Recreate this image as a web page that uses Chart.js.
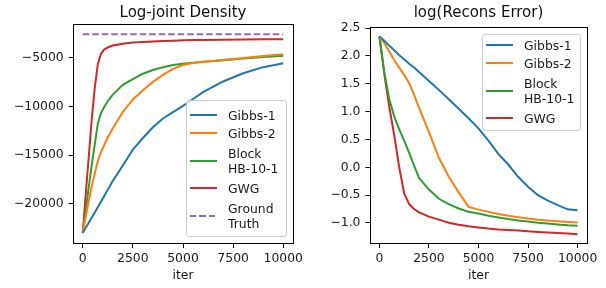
<!DOCTYPE html>
<html>
<head>
<meta charset="utf-8">
<script src="https://cdn.jsdelivr.net/npm/chart.js@4.4.1/dist/chart.umd.min.js"></script>
<style>
  html, body { margin: 0; padding: 0; background: #fff; }
  body { width: 606px; height: 288px; position: relative; overflow: hidden; font-family: "DejaVu Sans", sans-serif; }
  canvas { position: absolute; top: 0; }
  #density-chart { left: 0; }
  #recons-chart { left: 296px; }
  .legend { position: absolute; box-sizing: border-box; background: rgba(255,255,255,0.8); border: 1px solid #cccccc; border-radius: 3px; font-size: 12.4px; color: #1a1a1a; }
  #density-legend { left: 186px; top: 100px; width: 101px; height: 137px; padding-top: 5px; }
  #recons-legend { left: 482px; top: 34px; width: 99px; height: 97px; padding-top: 1px; }
  .legend-item { display: flex; align-items: center; height: 18.3px; }
  .legend-item.two-line { height: 36.7px; }
  .legend-line { width: 27px; height: 2px; margin: 0 11px 0 3px; flex: none; }
  .legend-label { line-height: 15px; white-space: pre; }
</style>
</head>
<body>
<canvas id="density-chart" width="330" height="288"></canvas>
<canvas id="recons-chart" width="310" height="288"></canvas>
<div class="legend" id="density-legend"></div>
<div class="legend" id="recons-legend"></div>
<script>
// Series names and colours (shared by both panels)
const seriesLabels = ['Gibbs-1', 'Gibbs-2', 'Block\nHB-10-1', 'GWG'];
const seriesColors = ['#1f77b4', '#ff7f0e', '#2ca02c', '#d62728'];

// Left panel: log-joint density
const densityIters = [0, 150, 300, 450, 600, 750, 900, 1050, 1250, 1500, 2000, 2500, 3000, 3500, 4000, 4500, 5000, 5500, 6000, 7000, 8000, 9000, 10000];
const densityGibbs1 = [-23000, -22470, -21950, -21420, -20900, -20370, -19830, -19280, -18550, -17650, -16070, -14450, -13250, -12150, -11250, -10600, -9950, -9250, -8550, -7450, -6600, -5980, -5580];
const densityGibbs2 = [-23000, -21350, -19700, -18180, -16900, -15630, -14750, -14070, -13170, -12240, -10580, -9290, -8350, -7490, -6780, -6150, -5760, -5560, -5440, -5240, -5040, -4840, -4650];
const densityBlock = [-23000, -20700, -18300, -16000, -13900, -11800, -10750, -10150, -9450, -8800, -7800, -7200, -6650, -6270, -5990, -5760, -5620, -5520, -5430, -5270, -5080, -4930, -4800];
const densityGWG = [-23000, -19000, -15200, -11300, -8100, -5700, -4650, -4200, -3960, -3760, -3570, -3450, -3390, -3340, -3300, -3260, -3230, -3200, -3185, -3160, -3140, -3125, -3115];
const groundTruthIters = [0, 10000];
const groundTruthValues = [-2600, -2600];

// Right panel: log reconstruction error
const reconsIters = [0, 250, 500, 750, 1000, 1250, 1500, 1750, 2000, 2500, 3000, 3500, 4000, 4500, 5000, 5500, 6000, 6500, 7000, 7500, 8000, 8500, 9000, 9500, 10000];
const reconsGibbs1 = [2.35, 2.27, 2.18, 2.10, 2.01, 1.94, 1.86, 1.79, 1.71, 1.55, 1.39, 1.22, 1.05, 0.88, 0.70, 0.48, 0.24, 0.05, -0.17, -0.35, -0.50, -0.60, -0.68, -0.755, -0.77];
const reconsGibbs2 = [2.35, 2.23, 2.08, 1.92, 1.79, 1.66, 1.51, 1.30, 1.07, 0.63, 0.17, -0.17, -0.45, -0.71, -0.76, -0.80, -0.84, -0.87, -0.895, -0.92, -0.94, -0.955, -0.97, -0.98, -0.99];
const reconsBlock = [2.35, 1.70, 1.22, 0.91, 0.68, 0.48, 0.26, 0.03, -0.19, -0.40, -0.565, -0.66, -0.74, -0.80, -0.83, -0.87, -0.90, -0.93, -0.955, -0.975, -0.995, -1.01, -1.025, -1.04, -1.05];
const reconsGWG = [2.35, 1.67, 1.08, 0.57, 0.0, -0.47, -0.66, -0.75, -0.81, -0.885, -0.94, -0.995, -1.03, -1.06, -1.08, -1.10, -1.115, -1.125, -1.135, -1.15, -1.16, -1.17, -1.18, -1.19, -1.20];

// Tick values
const iterTicks = [0, 2500, 5000, 7500, 10000];
const densityTicks = [-20000, -15000, -10000, -5000];
const reconsTicks = [-1.0, -0.5, 0.0, 0.5, 1.0, 1.5, 2.0, 2.5];

const textColor = '#1a1a1a';
const tickFont = { family: 'DejaVu Sans', size: 12.4 };
const titleFont = { family: 'DejaVu Sans', size: 15, weight: 'normal' };
const minus = s => s.replace('-', '\u2212');

function points(iters, values) {
    return iters.map((x, i) => ({ x, y: values[i] }));
}

function lineSet(label, color, iters, values, dash) {
    return {
        label, data: points(iters, values),
        borderColor: color, borderWidth: 2, borderDash: dash || [],
        pointRadius: 0, tension: 0, fill: false
    };
}

// matplotlib-like box around the plot area
const framePlugin = {
    id: 'frame',
    afterDraw(chart) {
        const { ctx, chartArea: a } = chart;
        ctx.save();
        ctx.strokeStyle = '#000';
        ctx.lineWidth = 1;
        ctx.strokeRect(Math.round(a.left) + 0.5, Math.round(a.top) + 0.5, Math.round(a.right - a.left) - 1, Math.round(a.bottom - a.top) - 1);
        ctx.restore();
    }
};

function axisCommon(tickValues, formatter) {
    return {
        type: 'linear',
        afterBuildTicks: s => { s.ticks = tickValues.map(v => ({ value: v })); },
        ticks: { font: tickFont, color: textColor, maxRotation: 0, autoSkip: false, callback: formatter },
        grid: { drawOnChartArea: false, drawTicks: true, tickLength: 4, tickColor: '#000', lineWidth: 1 },
        border: { display: false }
    };
}

function makeChart(canvasId, title, datasets, yTicks, yMin, yMax, yFormat, yWidth, padRight, titlePad) {
    const xAxis = axisCommon(iterTicks, v => String(v));
    Object.assign(xAxis, {
        min: -500, max: 10500,
        title: { display: true, text: 'iter', font: tickFont, color: textColor, padding: { top: 0, bottom: 5 } },
        afterFit: s => { s.height = 44; }
    });
    xAxis.ticks.padding = 3;
    const yAxis = axisCommon(yTicks, yFormat);
    Object.assign(yAxis, { min: yMin, max: yMax, afterFit: s => { s.width = yWidth; } });
    yAxis.ticks.padding = 5;

    return new Chart(document.getElementById(canvasId).getContext('2d'), {
        type: 'line',
        data: { datasets },
        options: {
            responsive: false,
            animation: false,
            devicePixelRatio: 1,
            layout: { padding: { top: 0, right: padRight, bottom: 0, left: 0 } },
            scales: { x: xAxis, y: yAxis },
            plugins: {
                legend: { display: false },
                tooltip: { enabled: false },
                title: { display: true, text: title, font: titleFont, color: '#111', fullSize: false, padding: titlePad }
            }
        },
        plugins: [framePlugin]
    });
}

const densitySeries = [densityGibbs1, densityGibbs2, densityBlock, densityGWG];
const densitySets = densitySeries.map((vals, i) => lineSet(seriesLabels[i], seriesColors[i], densityIters, vals));
densitySets.push(lineSet('Ground\nTruth', '#9467bd', groundTruthIters, groundTruthValues, [6.5, 3]));
makeChart('density-chart', 'Log-joint Density', densitySets, densityTicks, -24130, -1550,
    v => minus(String(v)), 72.7, 36.7, { top: 4.3, bottom: 1.7 });

const reconsSeries = [reconsGibbs1, reconsGibbs2, reconsBlock, reconsGWG];
const reconsSets = reconsSeries.map((vals, i) => lineSet(seriesLabels[i], seriesColors[i], reconsIters, vals));
makeChart('recons-chart', 'log(Recons Error)', reconsSets, reconsTicks, -1.377, 2.513,
    v => minus(v.toFixed(1)), 73.5, 18.5, { top: 4.3, bottom: 5 });

function renderLegend(containerId, datasets) {
    document.getElementById(containerId).innerHTML = datasets.map(ds => {
        const twoLine = ds.label.includes('\n');
        const dashed = ds.borderDash.length > 0;
        const bg = dashed
            ? `repeating-linear-gradient(90deg, ${ds.borderColor} 0 6.5px, transparent 6.5px 9.5px)`
            : ds.borderColor;
        return `<div class="legend-item${twoLine ? ' two-line' : ''}"><div class="legend-line" style="background: ${bg}"></div><span class="legend-label">${ds.label}</span></div>`;
    }).join('');
}
renderLegend('density-legend', densitySets);
renderLegend('recons-legend', reconsSets);
</script>
</body>
</html>
